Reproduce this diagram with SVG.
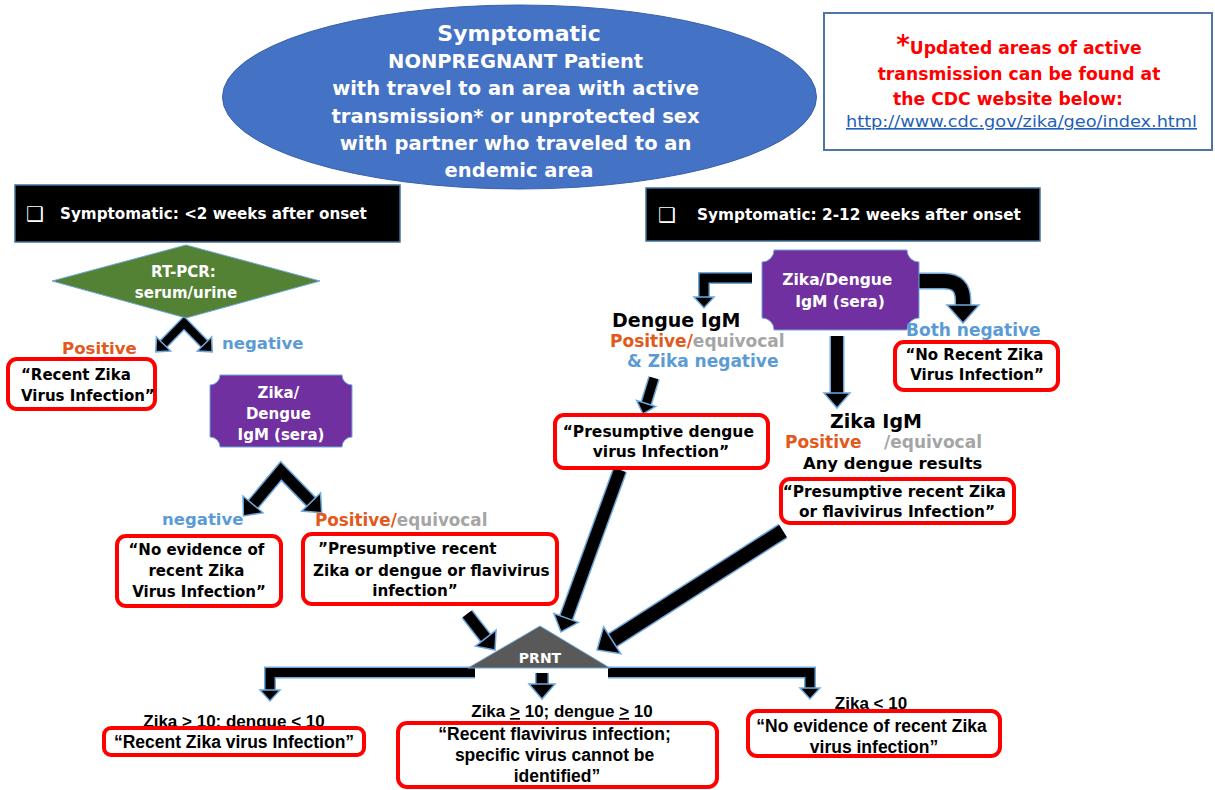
<svg xmlns="http://www.w3.org/2000/svg" width="1215" height="790" viewBox="0 0 1215 790">
<defs>
<style>
.t{font-family:"DejaVu Sans","Liberation Sans",sans-serif;font-weight:bold}
.n{font-family:"Liberation Sans",Arial,sans-serif;font-weight:bold}
.r{font-family:"DejaVu Sans","Liberation Sans",sans-serif;font-weight:normal}
.w{fill:#fff}.k{fill:#000}.or{fill:#E2591B}.gy{fill:#A5A5A5}.bl{fill:#5B9BD5}.rd{fill:#FF0000}
.rb{fill:#fff;stroke:#FF0000;stroke-width:4}
.hdr{fill:#000;stroke:#41719C;stroke-width:1.5}
.pu{fill:#7030A0;stroke:#6FA8DC;stroke-width:1}
.ao{fill:none;stroke:#6FA8DC;stroke-linejoin:miter}
.a{fill:none;stroke:#000;stroke-linejoin:miter}
.hd{fill:#000;stroke:#6FA8DC;stroke-width:1.5;stroke-linejoin:miter}
.cb{font-family:"DejaVu Sans",sans-serif;font-weight:normal;fill:#fff}
</style>
<marker id="hS" markerUnits="userSpaceOnUse" viewBox="-2 -14 16 28" markerWidth="16" markerHeight="28" refX="0" refY="0" orient="auto-start-reverse" overflow="visible"><path class="hd" d="M0,-10 L11,0 L0,10 Z"/></marker>
<marker id="hM" markerUnits="userSpaceOnUse" viewBox="-2 -16 20 32" markerWidth="20" markerHeight="32" refX="0" refY="0" orient="auto-start-reverse" overflow="visible"><path class="hd" d="M0,-13 L15,0 L0,13 Z"/></marker>
<marker id="hL" markerUnits="userSpaceOnUse" viewBox="-2 -19 23 38" markerWidth="23" markerHeight="38" refX="0" refY="0" orient="auto-start-reverse" overflow="visible"><path class="hd" d="M0,-16 L18,0 L0,16 Z"/></marker>
</defs>
<rect width="1215" height="790" fill="#fff"/>

<g id="connectors">
<path class="ao" stroke-width="11" d="M163.5,344 L184,323 L204.5,344"/>
<path class="ao" stroke-width="14" d="M253,504.4 L281,471 L311.2,502"/>
<path class="ao" stroke-width="12" d="M752,278 L704,278 L704,297"/>
<path class="ao" stroke-width="17" d="M919,281 L944,281 Q963,281 963,300 L963,305"/>
<path class="ao" stroke-width="15" d="M837,336 L837,393"/>
<path class="ao" stroke-width="12" d="M654,378 L646.2,403.5"/>
<path class="ao" stroke-width="15" d="M620,470 L566.1,617.9"/>
<path class="ao" stroke-width="17" d="M783,531 L612.2,640.3"/>
<path class="ao" stroke-width="14" d="M467,614 L485.8,638.2"/>
<path class="ao" stroke-width="12" d="M475,672.5 L270,672.5 L270,690"/>
<path class="ao" stroke-width="14" d="M542,673 L542,684"/>
<path class="ao" stroke-width="12" d="M608,672.5 L810,672.5 L810,688"/>

<path class="a" stroke-width="8" d="M163.5,344 L184,323 L204.5,344" marker-start="url(#hS)" marker-end="url(#hS)"/>
<path class="a" stroke-width="11" d="M253,504.4 L281,471 L311.2,502" marker-start="url(#hM)" marker-end="url(#hM)"/>
<path class="a" stroke-width="9" d="M752,278 L704,278 L704,297" marker-end="url(#hS)"/>
<path class="a" stroke-width="14" d="M919,281 L944,281 Q963,281 963,300 L963,305" marker-end="url(#hL)"/>
<path class="a" stroke-width="12" d="M837,336 L837,393" marker-end="url(#hM)"/>
<path class="a" stroke-width="9" d="M654,378 L646.2,403.5" marker-end="url(#hS)"/>
<path class="a" stroke-width="12" d="M620,470 L566.1,617.9" marker-end="url(#hM)"/>
<path class="a" stroke-width="14" d="M783,531 L612.2,640.3" marker-end="url(#hL)"/>
<path class="a" stroke-width="11" d="M467,614 L485.8,638.2" marker-end="url(#hM)"/>
<path class="a" stroke-width="9" d="M475,672.5 L270,672.5 L270,690" marker-end="url(#hS)"/>
<path class="a" stroke-width="11" d="M542,673 L542,684" marker-end="url(#hM)"/>
<path class="a" stroke-width="9" d="M608,672.5 L810,672.5 L810,688" marker-end="url(#hS)"/>
</g>

<g id="start">
<ellipse cx="519.5" cy="97" rx="297" ry="92" fill="#4472C4" stroke="#3A62AD" stroke-width="1"/>
<text class="t w" text-anchor="middle" x="519" y="41" font-size="22">Symptomatic</text>
<text class="t w" text-anchor="middle" font-size="19.5">
<tspan x="519" y="68">NONPREGNANT Patient</tspan>
<tspan x="519" y="95">with travel to an area with active</tspan>
<tspan x="519" y="123">transmission* or unprotected sex</tspan>
<tspan x="519" y="150">with partner who traveled to an</tspan>
<tspan x="519" y="177">endemic area</tspan>
</text>
</g>

<g id="note">
<rect x="824" y="13" width="388" height="137" fill="#fff" stroke="#4F74A8" stroke-width="2"/>
<text class="t rd" text-anchor="middle" font-size="17.2">
<tspan x="1022" y="54"><tspan font-size="26">*</tspan>Updated areas of active</tspan>
<tspan x="1022" y="80">transmission can be found at</tspan>
<tspan x="1008" y="105">the CDC website below:</tspan>
</text>
<text class="r" x="846" y="127" font-size="16" fill="#1F5FB8" text-decoration="underline" textLength="351" lengthAdjust="spacingAndGlyphs">http://www.cdc.gov/zika/geo/index.html</text>
</g>

<g id="header-early">
<rect class="hdr" x="15" y="185" width="385" height="57"/>
<text class="cb" x="26" y="221" font-size="20">❑</text>
<text class="t w" x="60" y="219" font-size="15.2">Symptomatic: &lt;2 weeks after onset</text>
</g>

<g id="header-late">
<rect class="hdr" x="646" y="188" width="394" height="53"/>
<text class="cb" x="658" y="222" font-size="20">❑</text>
<text class="t w" x="697" y="220" font-size="15.3">Symptomatic: 2-12 weeks after onset</text>
</g>

<g id="rtpcr">
<polygon points="52,281 186,245 320,281 186,318" fill="#548235" stroke="#6FA8DC" stroke-width="1"/>
<text class="t w" text-anchor="middle" font-size="15">
<tspan x="186" y="277">RT-PCR:</tspan>
<tspan x="186" y="298">serum/urine</tspan>
</text>
</g>

<g id="lbl-pcr">
<text class="t or" x="62" y="354" font-size="16.6">Positive</text>
<text class="t bl" x="222" y="349" font-size="16.5">negative</text>
</g>

<g id="res-recent-zika">
<rect class="rb" x="8" y="359" width="147" height="50" rx="9"/>
<text class="t k" font-size="15">
<tspan x="21" y="380">“Recent Zika</tspan>
<tspan x="21" y="401">Virus Infection”</tspan>
</text>
</g>

<g id="igm-early">
<path class="pu" d="M220,375 L342,375 A10,10 0 0 0 352,385 L352,437 A10,10 0 0 0 342,447 L220,447 A10,10 0 0 0 210,437 L210,385 A10,10 0 0 0 220,375 Z"/>
<text class="t w" text-anchor="middle" font-size="15">
<tspan x="281" y="398">Zika/</tspan>
<tspan x="281" y="419">Dengue</tspan>
<tspan x="281" y="440">IgM (sera)</tspan>
</text>
</g>

<g id="lbl-igm-early">
<text class="t bl" x="162" y="525" font-size="16.5">negative</text>
<text class="t" x="315" y="526" font-size="16.8"><tspan class="or">Positive/</tspan><tspan class="gy">equivocal</tspan></text>
</g>

<g id="res-no-evidence">
<rect class="rb" x="117" y="536" width="164" height="70" rx="9"/>
<text class="t k" text-anchor="middle" font-size="15">
<tspan x="199" y="555">“No evidence of</tspan>
<tspan x="199" y="576">recent Zika</tspan>
<tspan x="199" y="597">Virus Infection”</tspan>
</text>
</g>

<g id="res-presumptive-early">
<rect class="rb" x="303" y="534" width="254" height="70" rx="9"/>
<text class="t k" font-size="15.2">
<tspan x="318" y="554">”Presumptive recent</tspan>
<tspan x="313" y="576">Zika or dengue or flavivirus</tspan>
<tspan x="415" y="596" text-anchor="middle">infection”</tspan>
</text>
</g>

<g id="igm-late">
<path class="pu" d="M774,250 L907,250 A12,12 0 0 0 919,262 L919,318 A12,12 0 0 0 907,330 L774,330 A12,12 0 0 0 762,318 L762,262 A12,12 0 0 0 774,250 Z"/>
<text class="t w" text-anchor="middle" font-size="15.5">
<tspan x="840" y="285">Zika/Dengue</tspan>
<tspan x="840" y="307">IgM (sera)</tspan>
</text>
</g>

<g id="lbl-dengue">
<text class="t k" x="612" y="327" font-size="19">Dengue IgM</text>
<text class="t" x="610" y="347" font-size="17"><tspan class="or">Positive/</tspan><tspan class="gy">equivocal</tspan></text>
<text class="t bl" x="627" y="367" font-size="17">&amp; Zika negative</text>
</g>

<g id="res-dengue">
<rect class="rb" x="555" y="415" width="213" height="53" rx="9"/>
<text class="t k" text-anchor="middle" font-size="15.5">
<tspan x="661" y="437">“Presumptive dengue</tspan>
<tspan x="661" y="457">virus Infection”</tspan>
</text>
</g>

<g id="lbl-both-neg">
<text class="t bl" x="906" y="336" font-size="17">Both negative</text>
</g>

<g id="res-no-recent">
<rect class="rb" x="895" y="342" width="163" height="48" rx="9"/>
<text class="t k" text-anchor="middle" font-size="15">
<tspan x="977" y="360">“No Recent Zika</tspan>
<tspan x="977" y="380">Virus Infection”</tspan>
</text>
</g>

<g id="lbl-zika">
<text class="t k" x="830" y="428" font-size="19">Zika IgM</text>
<text class="t or" x="785" y="448" font-size="17">Positive</text>
<text class="t gy" x="884" y="448" font-size="17">/equivocal</text>
<text class="t k" x="803" y="469" font-size="16.4">Any dengue results</text>
</g>

<g id="res-zika-flavi">
<rect class="rb" x="781" y="479" width="233" height="44" rx="9"/>
<text class="t k" text-anchor="middle" font-size="15.4">
<tspan x="897" y="497">“Presumptive recent Zika</tspan>
<tspan x="897" y="517">or flavivirus Infection”</tspan>
</text>
</g>

<g id="prnt">
<polygon points="540,626 468,668 610,668" fill="#595959" stroke="#6FA8DC" stroke-width="1"/>
<text class="t w" text-anchor="middle" x="540" y="663" font-size="14">PRNT</text>
</g>

<g id="res-zika-prnt">
<text class="n k" text-anchor="middle" x="234" y="727" font-size="17">Zika &gt; 10; dengue &lt; 10</text>
<rect class="rb" x="104" y="728" width="260" height="27" rx="7"/>
<text class="n k" text-anchor="middle" x="234" y="748" font-size="17.5">“Recent Zika virus Infection”</text>
</g>

<g id="res-flavi-prnt">
<text class="n k" text-anchor="middle" x="562" y="717" font-size="17">Zika <tspan text-decoration="underline">&gt;</tspan> 10; dengue <tspan text-decoration="underline">&gt;</tspan> 10</text>
<rect class="rb" x="398" y="723" width="319" height="64" rx="9"/>
<text class="n k" text-anchor="middle" font-size="17.5">
<tspan x="557" y="740">“Recent flavivirus infection;</tspan>
<tspan x="557" y="761">specific virus cannot be</tspan>
<tspan x="557" y="782">identified”</tspan>
</text>
</g>

<g id="res-none-prnt">
<text class="n k" text-anchor="middle" x="871" y="709" font-size="17">Zika &lt; 10</text>
<rect class="rb" x="748" y="711" width="252" height="45" rx="9"/>
<text class="n k" text-anchor="middle" font-size="17.5">
<tspan x="874" y="732">“No evidence of recent Zika</tspan>
<tspan x="874" y="753">virus infection”</tspan>
</text>
</g>
</svg>
